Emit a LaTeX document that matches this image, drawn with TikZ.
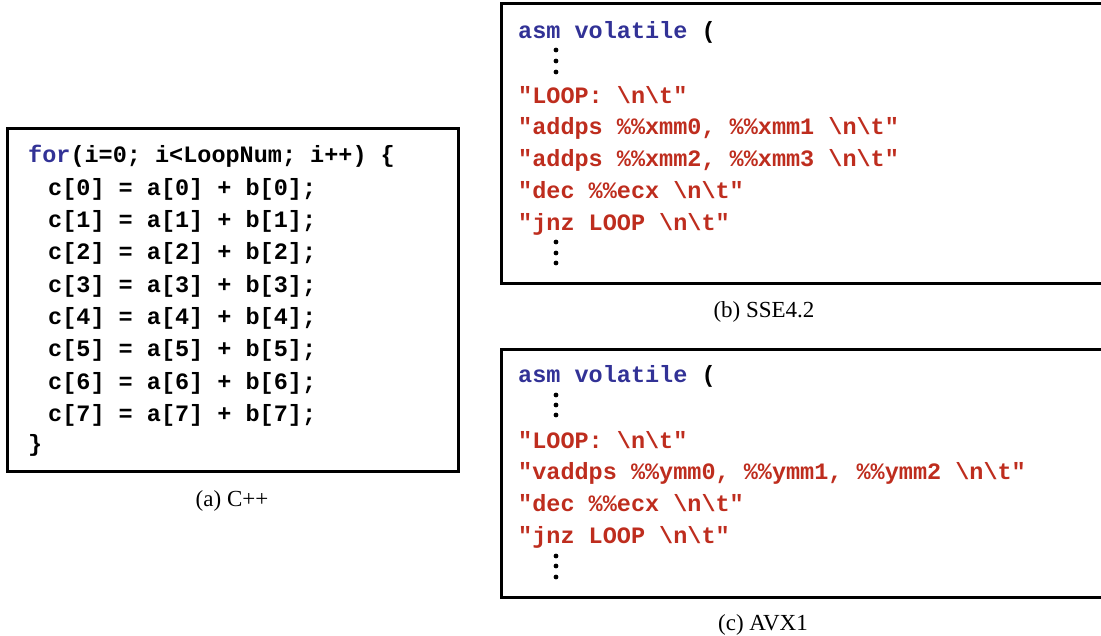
\documentclass[tikz,border=0pt]{standalone}
\usepackage{fontspec}
\setmainfont{Liberation Serif}
\setmonofont{Liberation Mono}

\definecolor{kwblue}{RGB}{50,50,150}
\definecolor{strred}{RGB}{190,45,30}

\tikzset{
    code/.style = {anchor = mid west, inner sep = 0pt, font = \fontsize{23.5}{28}\selectfont\ttfamily\bfseries},
    str/.style = {code, text = strred},
    caption/.style = {inner sep = 0pt, font = \fontsize{23}{27}\selectfont},
    frame/.style = {line width = 3pt},
}
\newcommand{\nlt}{\textbackslash n\textbackslash t}

\begin{document}
\begin{tikzpicture}[x = 1pt, y = -1pt]
    \clip (0, 0) rectangle (1101, 636);

    % (a) plain C++ loop
    \begin{scope}
        \draw [frame] (7, 129) rectangle (458, 471);
        \node [code] (for) at (28, 160) {\textcolor{kwblue}{for}(i=0; i<LoopNum; i++) \{};
        \foreach \i in {0,...,7}
            \node [code] (line\i) at (48, 193 + 32.3*\i) {c[\i] = a[\i] + b[\i];};
        \node [code] (close) at (28, 449) {\}};
        \node [caption] (capa) at (232, 501) {(a) C++};
    \end{scope}

    % (b) SSE4.2
    \begin{scope}
        \draw [frame] (1110, 4) -- (501, 4) -- (501, 284) -- (1110, 284);
        \node [code] (asmb) at (518, 36) {\textcolor{kwblue}{asm volatile} (};
        \foreach \y in {50, 61, 72, 242, 253, 263}
            \fill (556, \y) circle (2.4);
        \node [str] (loopb) at (518, 101) {"LOOP: \nlt"};
        \node [str] (addb1) at (518, 132) {"addps \%\%xmm0, \%\%xmm1 \nlt"};
        \node [str] (addb2) at (518, 164) {"addps \%\%xmm2, \%\%xmm3 \nlt"};
        \node [str] (decb) at (518, 196) {"dec \%\%ecx \nlt"};
        \node [str] (jnzb) at (518, 228) {"jnz LOOP \nlt"};
        \node [caption] (capb) at (764, 312) {(b) SSE4.2};
    \end{scope}

    % (c) AVX1
    \begin{scope}
        \draw [frame] (1110, 350) -- (501, 350) -- (501, 597) -- (1110, 597);
        \node [code] (asmc) at (518, 380) {\textcolor{kwblue}{asm volatile} (};
        \foreach \y in {395, 405, 415, 556, 566, 577}
            \fill (556, \y) circle (2.4);
        \node [str] (loopc) at (518, 446) {"LOOP: \nlt"};
        \node [str] (vaddc) at (518, 477) {"vaddps \%\%ymm0, \%\%ymm1, \%\%ymm2 \nlt"};
        \node [str] (decc) at (518, 509) {"dec \%\%ecx \nlt"};
        \node [str] (jnzc) at (518, 541) {"jnz LOOP \nlt"};
        \node [caption] (capc) at (763, 625) {(c) AVX1};
    \end{scope}
\end{tikzpicture}
\end{document}
